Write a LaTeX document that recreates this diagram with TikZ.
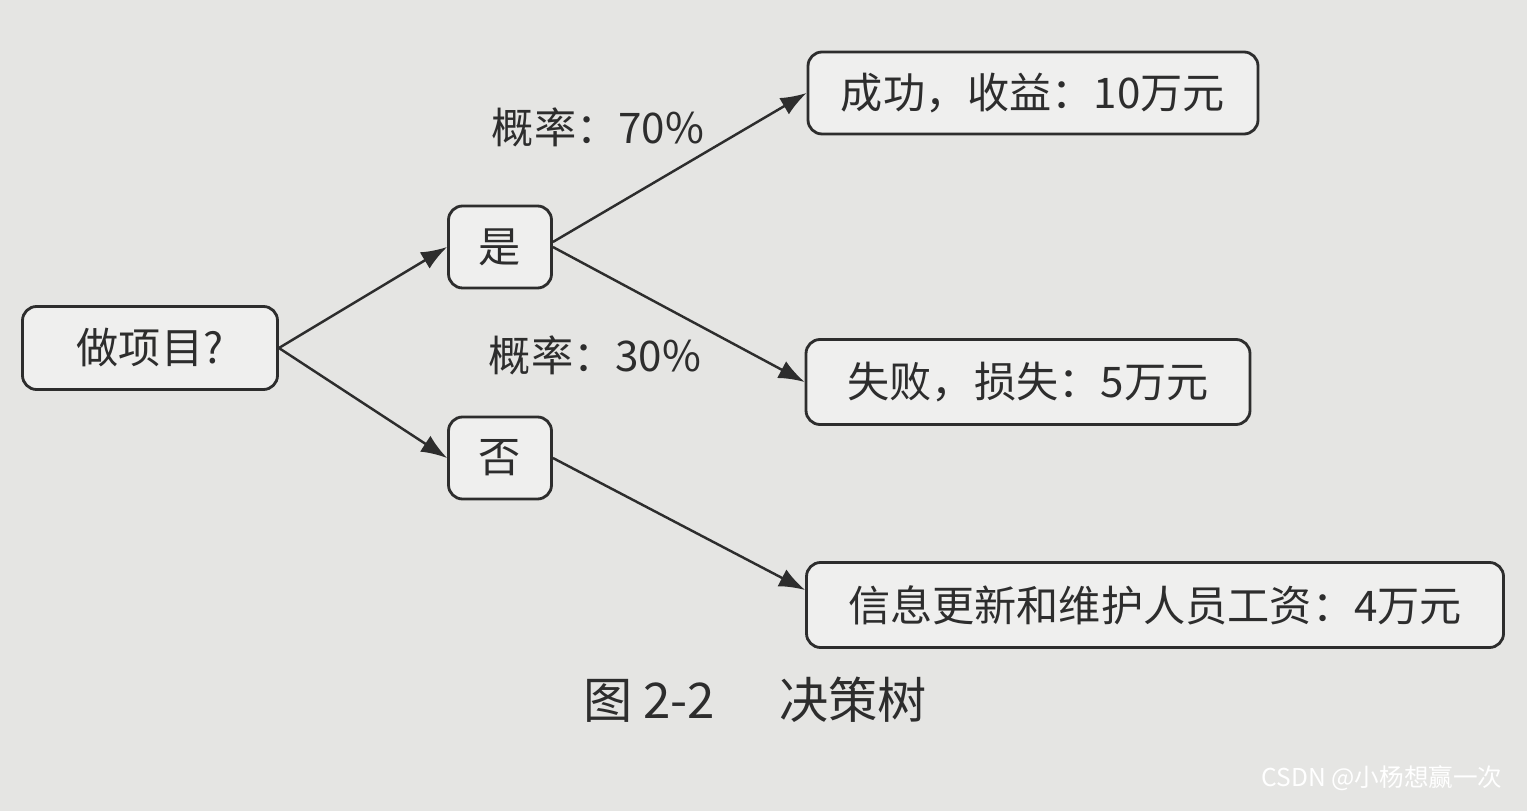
\documentclass[tikz,border=0pt]{standalone}
\usepackage{fontspec}
\setmainfont{Liberation Serif}
\newfontfamily\cjk{Noto Sans CJK SC}
\usepackage{xcolor}
\usetikzlibrary{positioning,arrows.meta}
\definecolor{paper}{RGB}{229,229,227}
\definecolor{ink}{RGB}{45,45,45}
\tikzset{
  line/.style={-{Latex[length=2.6mm,width=1.9mm]}, line width=0.7pt, draw=ink},
  box/.style={draw=ink, line width=0.8pt, rounded corners=4pt, fill=paper!60!white,
    align=center, inner sep=3pt, text=ink, font=\cjk\fontsize{12}{14}\selectfont},
  smallbox/.style={box, minimum width=10.3mm, minimum height=8.2mm},
  midbox/.style={box, minimum width=25.5mm, minimum height=8.3mm},
  prob/.style={text=ink, font=\cjk\fontsize{12}{14}\selectfont}
}
\begin{document}
\begin{tikzpicture}
  \useasboundingbox (0,0) rectangle (15.27,8.11);
  \fill[paper] (0,0) rectangle (15.27,8.11);

  \node[midbox] (root) at (1.50,4.63) {做项目?};
  \node[smallbox] (yes) at (5.00,5.64) {是};
  \node[smallbox] (no) at (5.00,3.53) {否};
  \node[box, minimum width=45.0mm, minimum height=8.2mm] (win) at (10.33,7.18) {成功，收益：10万元};
  \node[box, minimum width=44.4mm, minimum height=8.5mm] (lose) at (10.28,4.29) {失败，损失：5万元};
  \node[box, minimum width=69.7mm, minimum height=8.5mm] (cost) at (11.55,2.06) {信息更新和维护人员工资：4万元};

  \node[prob] (p70) at (5.98,6.84) {概率：70\%};
  \node[prob] (p30) at (5.95,4.56) {概率：30\%};

  \draw[line] (root.east) -- (yes.west);
  \draw[line] (root.east) -- (no.west);
  \draw[line] ([yshift=0.5mm]yes.east) -- (win.west);
  \draw[line] (yes.east) -- (lose.west);
  \draw[line] (no.east) -- ([yshift=1.5mm]cost.west);

  \node[prob, font=\cjk\fontsize{14}{16}\selectfont] (caption) at (7.55,1.11) {图 2-2\hspace{1.3em}决策树};
  \node[text=white, font=\cjk\fontsize{7}{8}\selectfont, anchor=south east] (mark) at (15.15,0.08) {CSDN @小杨想赢一次};
\end{tikzpicture}
\end{document}
